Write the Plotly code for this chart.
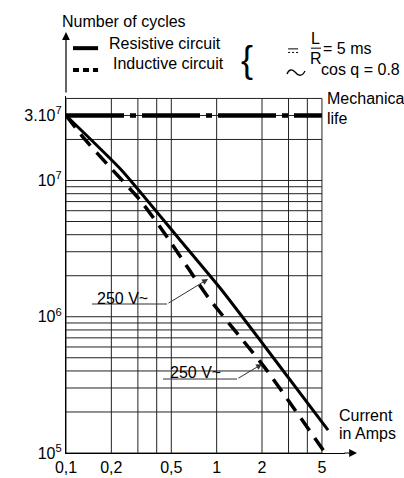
import math
import plotly.graph_objects as go

# ---- data ----
res_current = [0.1, 0.234, 0.571, 1.08, 2.15, 5.49]
res_cycles = [3.0e7, 1.19e7, 3.66e6, 1.57e6, 5.8e5, 1.47e5]

ind_current = [0.1, 0.13, 0.196, 0.31, 0.469, 0.877, 2.10, 5.25]
ind_cycles = [3.0e7, 2.07e7, 1.25e7, 7.2e6, 3.85e6, 1.39e6, 4.2e5, 1.0e5]

mech_current = [0.1, 5]
mech_cycles = [3.0e7, 3.0e7]

x_tickvals = [0.1, 0.2, 0.5, 1, 2, 5]
x_ticktext = ["0,1", "0,2", "0,5", "1", "2", "5"]
x_minor = [0.3, 0.4, 3, 4]
y_tickvals = [1e5, 1e6, 1e7, 3e7]
y_ticktext = ["10<sup>5</sup>", "10<sup>6</sup>", "10<sup>7</sup>", "3.10<sup>7</sup>"]
y_minor = [m * 10 ** e for e in (5, 6) for m in range(2, 10)] + [2e7, 4e7]

FONT = "Liberation Sans, Arial, sans-serif"
FS = 16

fig = go.Figure()

# grid (drawn as traces so it stops at the right border x=5)
xs_all = sorted(x_tickvals + x_minor)
ys_all = sorted(y_tickvals + y_minor)
gx, gy = [], []
for xv in xs_all:
    gx += [xv, xv, None]
    gy += [ys_all[0], ys_all[-1], None]
for yv in ys_all:
    gx += [xs_all[0], xs_all[-1], None]
    gy += [yv, yv, None]
fig.add_trace(go.Scatter(x=gx, y=gy, mode="lines",
                         line=dict(color="#222", width=1), hoverinfo="skip"))

fig.add_trace(go.Scatter(x=mech_current, y=mech_cycles, mode="lines",
                         line=dict(color="black", width=4.5, dash="58px,6px,6px,6px")))
fig.add_trace(go.Scatter(x=res_current, y=res_cycles, mode="lines",
                         line=dict(color="black", width=3, shape="spline", smoothing=0.5)))
fig.add_trace(go.Scatter(x=ind_current, y=ind_cycles, mode="lines",
                         line=dict(color="black", width=3.5, dash="15px,9px",
                                   shape="spline", smoothing=0.5)))

# underlines of the "250 V~" labels
ul1_x = [0.1488, 0.4686]
ul1_y = [1.24e6, 1.24e6]
ul2_x = [0.4406, 1.366]
ul2_y = [3.49e5, 3.49e5]
for ux, uy in ((ul1_x, ul1_y), (ul2_x, ul2_y)):
    fig.add_trace(go.Scatter(x=ux, y=uy, mode="lines",
                             line=dict(color="#333", width=1), hoverinfo="skip"))

ann = []
def txt(text, x, y, xanchor="left", size=FS, ref="paper", family=FONT):
    ann.append(dict(text=text, x=x, y=y, xref=ref, yref=ref, xanchor=xanchor,
                    yanchor="middle", showarrow=False,
                    font=dict(family=family, size=size, color="black")))

txt("Number of cycles", -0.0215, 1.210)
txt("Resistive circuit", 0.147, 1.148)
txt("Inductive circuit", 0.161, 1.092)
txt("{", 0.649, 1.101, xanchor="center", size=36)
txt("L", 0.896, 1.162, xanchor="center")
txt("R", 0.896, 1.106, xanchor="center")
txt("= 5 ms", 0.914, 1.134)
txt("cos q = 0.8", 0.907, 1.073)
txt("Mechanical", 0.928, 0.994)
txt("life", 0.928, 0.938)
txt("Current", 0.971, 0.106)
txt("in Amps", 0.971, 0.056)

# "250 V~" labels (log axes: annotation positions in log10 units)
ann.append(dict(text="250 V~", x=-0.628, y=6.137, xref="x", yref="y", showarrow=False,
                font=dict(family=FONT, size=FS, color="black")))
ann.append(dict(text="250 V~", x=-0.1434, y=5.588, xref="x", yref="y", showarrow=False,
                font=dict(family=FONT, size=FS, color="black")))
# leader arrows
ann.append(dict(text="", x=-0.0571, y=6.2766, xref="x", yref="y",
                ax=math.log10(ul1_x[1]), ay=math.log10(ul1_y[1]), axref="x", ayref="y",
                showarrow=True, arrowhead=2, arrowsize=1.2, arrowwidth=1, arrowcolor="#333"))
ann.append(dict(text="", x=0.3015, y=5.653, xref="x", yref="y",
                ax=math.log10(ul2_x[1]), ay=math.log10(ul2_y[1]), axref="x", ayref="y",
                showarrow=True, arrowhead=2, arrowsize=1.2, arrowwidth=1, arrowcolor="#333"))
# axis arrows
ann.append(dict(text="", x=0, y=1.179, xref="paper", yref="paper", ax=0, ay=62,
                showarrow=True, arrowhead=2, arrowsize=1.3, arrowwidth=1.2, arrowcolor="black"))
ann.append(dict(text="", x=1.043, y=0, xref="paper", yref="paper", ax=-14, ay=0,
                showarrow=True, arrowhead=2, arrowsize=1.3, arrowwidth=1.2, arrowcolor="black"))

shapes = [
    # legend samples
    dict(type="line", xref="paper", yref="paper", x0=0.025, x1=0.115, y0=1.134, y1=1.134,
         line=dict(color="black", width=4)),
    dict(type="line", xref="paper", yref="paper", x0=0.025, x1=0.115, y0=1.073, y1=1.073,
         line=dict(color="black", width=4, dash="6px,4px")),
    # DC symbol
    dict(type="line", xref="paper", yref="paper", x0=0.796, x1=0.832, y0=1.132, y1=1.132,
         line=dict(color="black", width=1)),
    dict(type="line", xref="paper", yref="paper", x0=0.796, x1=0.832, y0=1.122, y1=1.122,
         line=dict(color="black", width=1, dash="2px,2px")),
    # fraction bar
    dict(type="line", xref="paper", yref="paper", x0=0.878, x1=0.914, y0=1.134, y1=1.134,
         line=dict(color="black", width=1)),
    # AC symbol (wide tilde)
    dict(type="path", xref="paper", yref="paper",
         path="M 0.7921,1.0616 C 0.7993,1.0756 0.8100,1.0756 0.8208,1.0672 "
              "C 0.8315,1.0560 0.8459,1.0532 0.8566,1.0700",
         line=dict(color="black", width=1.3)),
]

fig.update_layout(
    width=404, height=478,
    margin=dict(l=66, r=59, t=96, b=25, autoexpand=False),
    paper_bgcolor="white", plot_bgcolor="white",
    showlegend=False,
    annotations=ann, shapes=shapes,
    font=dict(family=FONT, size=FS, color="black"),
    xaxis=dict(type="log", range=[-1, 0.852], tickvals=x_tickvals, ticktext=x_ticktext,
               showgrid=False, zeroline=False, showline=True, linecolor="black",
               linewidth=1.2, ticks="", automargin=False,
               tickfont=dict(family=FONT, size=FS, color="black")),
    yaxis=dict(type="log", range=[5, 7.62], tickvals=y_tickvals, ticktext=y_ticktext,
               showgrid=False, zeroline=False, showline=True, linecolor="black",
               linewidth=1.2, ticks="", automargin=False,
               tickfont=dict(family=FONT, size=FS, color="black")),
)

fig.write_html("out.html", config={"displayModeBar": False},
               post_script="document.body.style.margin='0';document.body.style.overflow='hidden';")
